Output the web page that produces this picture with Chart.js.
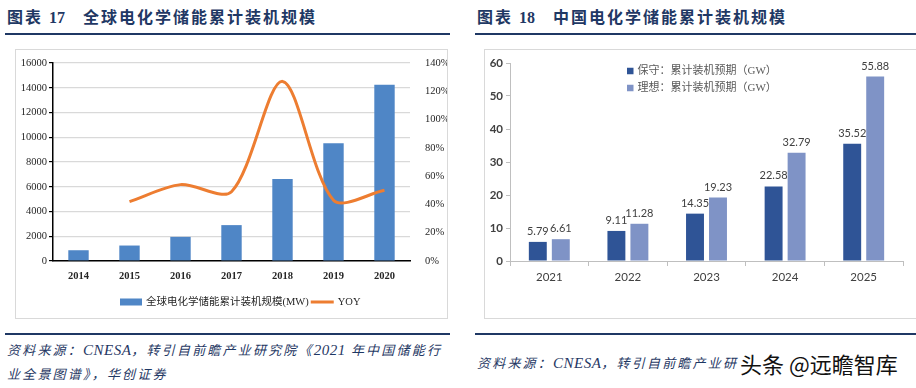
<!DOCTYPE html>
<html>
<head>
<meta charset="utf-8">
<script src="https://cdn.jsdelivr.net/npm/chart.js@4/dist/chart.umd.min.js"></script>
<style>
  html, body { margin: 0; padding: 0; background: #fff; }
  body { width: 916px; height: 388px; position: relative; overflow: hidden; }
  .title { position: absolute; top: 4px; font: 700 16px "Noto Sans CJK SC", sans-serif; color: #1f3864; letter-spacing: 2px; white-space: nowrap; }
  .title .num { font-family: "Liberation Serif", serif; letter-spacing: 0; margin-right: 18px; margin-left: 6px; }
  .rule { position: absolute; height: 2px; background: #1f3864; }
  .box { position: absolute; border: 1px solid #d9d9d9; box-sizing: border-box; }
  canvas { position: absolute; }
  .src { position: absolute; font: italic 13px "Noto Sans CJK SC", serif; color: #1f3864; letter-spacing: 2.2px; white-space: nowrap; }
  .src .lat { font-family: "Liberation Serif", serif; letter-spacing: 0.5px; font-size: 15px; }
  .mark { position: absolute; left: 740px; top: 347px; font: 22px "Noto Sans CJK SC", sans-serif; color: #111; white-space: nowrap; text-shadow: 0 0 3px #fff, 0 0 3px #fff; }
</style>
</head>
<body>
<div class="title" style="left:7px">图表<span class="num">17</span>全球电化学储能累计装机规模</div>
<div class="title" style="left:477px">图表<span class="num">18</span>中国电化学储能累计装机规模</div>
<div class="rule" style="left:5px;width:445px;top:33px"></div>
<div class="rule" style="left:475px;width:441px;top:33px"></div>

<div class="box" style="left:15px;top:49px;width:433px;height:270px"></div>
<div class="box" style="left:484px;top:49px;width:440px;height:270px"></div>
<canvas id="globalChart" width="432" height="269" style="left:15px;top:49px"></canvas>
<canvas id="chinaChart" width="432" height="269" style="left:484px;top:49px"></canvas>

<div class="rule" style="left:5px;width:445px;top:333px"></div>
<div class="rule" style="left:475px;width:441px;top:333px"></div>
<div class="src" style="left:7px;top:340px">资料来源：<span class="lat">CNESA</span>，转引自前瞻产业研究院《<span class="lat">2021</span> 年中国储能行</div>
<div class="src" style="left:7px;top:364px">业全景图谱》，华创证券</div>
<div class="src" style="left:477px;top:353px">资料来源：<span class="lat">CNESA</span>，转引自前瞻产业研</div>
<div class="mark">头条 @远瞻智库</div>

<script>
// 图表17：全球电化学储能累计装机规模
const years = ['2014', '2015', '2016', '2017', '2018', '2019', '2020'];
const globalMW = [870, 1250, 1950, 2900, 6620, 9520, 14250];
const globalYoy = [null, 42, 54, 49, 127, 43, 50];

// 图表18：中国电化学储能累计装机规模
const chinaYears = ['2021', '2022', '2023', '2024', '2025'];
const conservativeGW = [5.79, 9.11, 14.35, 22.58, 35.52];
const idealGW = [6.61, 11.28, 19.23, 32.79, 55.88];

const $ = id => document.getElementById(id);
const SERIF = '"Liberation Serif", "Noto Sans CJK SC", serif';
const SANS = 'Lato, "Noto Sans CJK SC", sans-serif';

// 自绘图例（位置放在 options 里）
const drawLegend = {
    id: 'drawLegend',
    afterDraw(chart, args, opts) {
        const ctx = chart.ctx;
        ctx.save();
        ctx.font = opts.font;
        ctx.fillStyle = opts.color;
        ctx.textBaseline = 'middle';
        let x = opts.x, y = opts.y;
        chart.data.datasets.forEach(ds => {
            const color = ds.type === 'line' ? ds.borderColor : ds.backgroundColor;
            if (ds.type === 'line') {
                ctx.strokeStyle = color;
                ctx.lineWidth = 3;
                ctx.beginPath();
                ctx.moveTo(x, y); ctx.lineTo(x + opts.lineW, y);
                ctx.stroke();
                x += opts.lineW + 4;
            } else {
                ctx.fillStyle = color;
                ctx.fillRect(x, y - opts.boxH / 2, opts.boxW, opts.boxH);
                x += opts.boxW + 4;
            }
            ctx.fillStyle = opts.color;
            ctx.fillText(ds.label, x, y + 0.5);
            if (opts.vertical) {
                x = opts.x; y += opts.rowGap;
            } else {
                x += ctx.measureText(ds.label).width + 2;
            }
        });
        ctx.restore();
    }
};

// 柱顶数值
const barValues = {
    id: 'barValues',
    afterDatasetsDraw(chart) {
        const ctx = chart.ctx;
        ctx.save();
        ctx.font = '11px ' + SANS;
        ctx.fillStyle = '#404040';
        ctx.textAlign = 'center';
        ctx.textBaseline = 'alphabetic';
        chart.data.datasets.forEach((ds, i) => {
            chart.getDatasetMeta(i).data.forEach((bar, j) => {
                ctx.fillText(ds.data[j].toFixed(2), bar.x, bar.y - 7);
            });
        });
        ctx.restore();
    }
};

new Chart($('globalChart'), {
    data: {
        labels: years,
        datasets: [
            {
                type: 'bar',
                label: '全球电化学储能累计装机规模(MW)',
                data: globalMW,
                backgroundColor: '#4f86c6',
                barPercentage: 0.4,
                categoryPercentage: 1,
                yAxisID: 'y',
                order: 2
            },
            {
                type: 'line',
                label: 'YOY',
                data: globalYoy,
                borderColor: '#ed7d31',
                borderWidth: 3,
                pointRadius: 0,
                tension: 0.3,
                yAxisID: 'y1',
                order: 1
            }
        ]
    },
    options: {
        responsive: false,
        animation: false,
        layout: { padding: { top: 14, right: 0, left: 0, bottom: 0 } },
        plugins: {
            legend: { display: false },
            tooltip: { enabled: false },
            drawLegend: { x: 105, y: 253, boxW: 22, boxH: 7, lineW: 23, font: '10.5px ' + SERIF, color: '#262626' }
        },
        scales: {
            x: {
                offset: true,
                grid: { display: false },
                border: { color: '#000', width: 1.5 },
                ticks: { color: '#262626', font: { family: SERIF, size: 10.5, weight: 'bold' }, padding: 1 },
                afterFit: s => { s.height = 57; }
            },
            y: {
                position: 'left',
                min: 0, max: 16000,
                ticks: { stepSize: 2000, color: '#262626', font: { family: SERIF, size: 10.5 }, padding: 2, callback: v => String(v) },
                grid: { color: '#d9d9d9', lineWidth: 1.2, tickLength: 4, tickColor: '#000' },
                border: { color: '#000', width: 1.5 },
                afterFit: s => { s.width = 38; }
            },
            y1: {
                position: 'right',
                min: 0, max: 140,
                ticks: { stepSize: 20, color: '#262626', font: { family: SERIF, size: 10.5 }, padding: 7, callback: v => v + '%' },
                grid: { display: false },
                border: { display: false },
                afterFit: s => { s.width = 37; }
            }
        }
    },
    plugins: [drawLegend]
});

new Chart($('chinaChart'), {
    type: 'bar',
    data: {
        labels: chinaYears,
        datasets: [
            {
                label: '保守：累计装机预期（GW）',
                data: conservativeGW,
                backgroundColor: '#2f5496',
                barPercentage: 0.78,
                categoryPercentage: 0.585
            },
            {
                label: '理想：累计装机预期（GW）',
                data: idealGW,
                backgroundColor: '#7f93c6',
                barPercentage: 0.78,
                categoryPercentage: 0.585
            }
        ]
    },
    options: {
        responsive: false,
        animation: false,
        layout: { padding: { top: 14, right: 13, left: 0, bottom: 0 } },
        plugins: {
            legend: { display: false },
            tooltip: { enabled: false },
            drawLegend: { x: 143, y: 22, boxW: 6.5, boxH: 6.5, font: '11px ' + SERIF, color: '#595959', vertical: true, rowGap: 17 }
        },
        scales: {
            x: {
                offset: true,
                grid: { offset: true, drawOnChartArea: false, tickLength: 5, color: '#bfbfbf' },
                border: { color: '#bfbfbf' },
                ticks: { color: '#404040', font: { family: SANS, size: 11.5 }, padding: 4 },
                afterFit: s => { s.height = 57; }
            },
            y: {
                min: 0, max: 60,
                ticks: { stepSize: 10, color: '#404040', font: { family: SANS, size: 11.5, weight: 'bold' }, padding: 3 },
                grid: { drawOnChartArea: false, tickLength: 4, color: '#bfbfbf' },
                border: { color: '#bfbfbf' },
                afterFit: s => { s.width = 26; }
            }
        }
    },
    plugins: [drawLegend, barValues]
});
</script>
</body>
</html>
